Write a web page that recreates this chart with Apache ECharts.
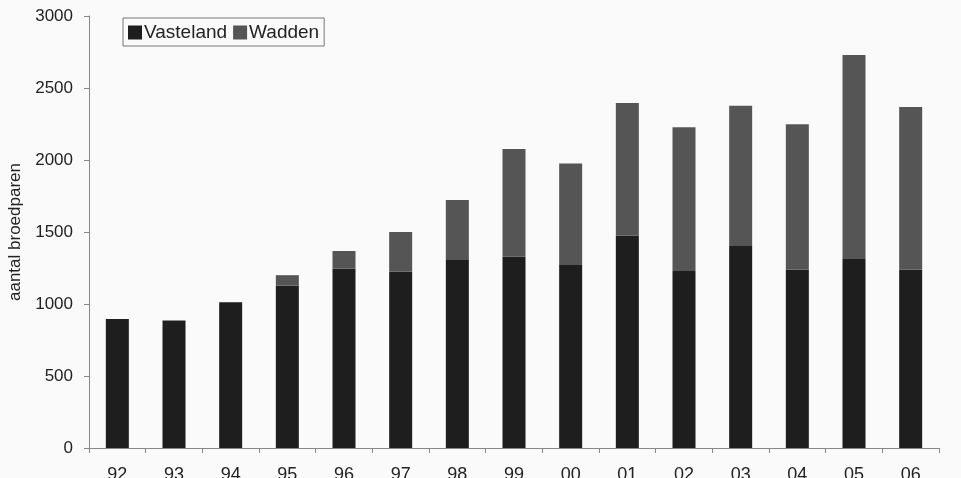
<!DOCTYPE html>
<html>
<head>
<meta charset="utf-8">
<script src="https://cdn.jsdelivr.net/npm/echarts@6/dist/echarts.min.js"></script>
<style>
  html, body { margin: 0; padding: 0; background: #fafafa; }
  #chart { width: 961px; height: 478px; }
</style>
</head>
<body>
<div id="chart"></div>
<script>
// jaren (tick labels)
const years = ['92', '93', '94', '95', '96', '97', '98', '99', '00', '01', '02', '03', '04', '05', '06'];
// aantal broedparen, vasteland
const vasteland = [895, 885, 1012, 1127, 1245, 1224, 1306, 1328, 1271, 1476, 1230, 1403, 1238, 1318, 1240];
// aantal broedparen, wadden (bovenop vasteland)
const wadden = [0, 0, 0, 73, 123, 276, 416, 748, 705, 920, 998, 974, 1011, 1412, 1128];

const chart = echarts.init(document.getElementById('chart'));
const option = {
  backgroundColor: '#fafafa',
  animation: false,
  textStyle: { fontFamily: 'Liberation Sans, Arial, sans-serif' },
  legend: {
    left: 123,
    top: 18,
    padding: [5, 5, 4, 5],
    itemGap: 6,
    itemWidth: 14,
    itemHeight: 14,
    borderColor: '#777',
    borderWidth: 1,
    icon: 'rect',
    textStyle: { fontSize: 19, color: '#222', padding: [0, 0, 0, -3] },
    data: ['Vasteland', 'Wadden']
  },
  grid: { left: 89, right: 22, top: 16, bottom: 30, containLabel: false, outerBoundsMode: 'none' },
  xAxis: {
    type: 'category',
    data: years,
    axisLine: { lineStyle: { color: '#888', width: 1 } },
    axisTick: { show: true, length: 5, lineStyle: { color: '#888' } },
    axisLabel: { fontSize: 18, color: '#222', margin: 18 }
  },
  yAxis: {
    type: 'value',
    min: 0,
    max: 3000,
    interval: 500,
    name: 'aantal broedparen',
    nameLocation: 'middle',
    nameRotate: 90,
    nameGap: 57,
    nameTextStyle: { fontSize: 17, color: '#222' },
    axisLine: { show: true, lineStyle: { color: '#888', width: 1 } },
    axisTick: { show: true, length: 5, lineStyle: { color: '#888' } },
    axisLabel: { fontSize: 17, color: '#222', margin: 16, formatter: v => String(v) },
    splitLine: { show: false }
  },
  series: [
    {
      name: 'Vasteland',
      type: 'bar',
      stack: 'totaal',
      barWidth: 23,
      itemStyle: { color: '#1e1e1e' },
      data: vasteland
    },
    {
      name: 'Wadden',
      type: 'bar',
      stack: 'totaal',
      barWidth: 23,
      itemStyle: { color: '#555555' },
      data: wadden
    }
  ]
};
chart.setOption(option);
</script>
</body>
</html>
